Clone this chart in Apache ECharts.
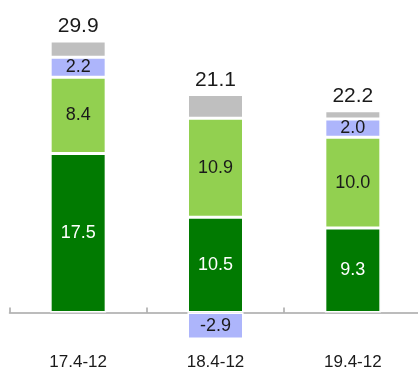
<!DOCTYPE html>
<html>
<head>
<meta charset="utf-8">
<script src="https://cdn.jsdelivr.net/npm/echarts@6/dist/echarts.min.js"></script>
<style>
  html, body { margin: 0; padding: 0; background: #fff; }
  #chart { width: 418px; height: 372px; }
</style>
</head>
<body>
<div id="chart"></div>
<script>
// Period categories
const periods = ['17.4-12', '18.4-12', '19.4-12'];
// Stacked components (bottom to top)
const coreValues = [17.5, 10.5, 9.3];
const secondValues = [8.4, 10.9, 10.0];
const thirdValues = [2.2, -2.9, 2.0];
const otherValues = [1.8, 2.6, 0.9];
// Totals shown above each column
const totals = [29.9, 21.1, 22.2];

const FONT = '"Liberation Sans", Arial, sans-serif';
const chart = echarts.init(document.getElementById('chart'), null, { renderer: 'canvas' });

function segment(name, data, color, labelColor, showLabel) {
  return {
    name: name,
    type: 'bar',
    stack: 'sum',
    barWidth: 56,
    data: data,
    itemStyle: { color: color, borderColor: '#ffffff', borderWidth: 1.5 },
    label: {
      show: showLabel,
      position: 'inside',
      color: labelColor,
      fontSize: 18,
      fontFamily: FONT,
      formatter: p => p.value.toFixed(1)
    },
    emphasis: { disabled: true }
  };
}

const otherSeries = segment('other', otherValues, '#bfbfbf', '#1a1a1a', true);
otherSeries.label = {
  show: true,
  position: 'top',
  distance: 4,
  color: '#1a1a1a',
  fontSize: 21,
  fontFamily: FONT,
  formatter: p => totals[p.dataIndex].toFixed(1)
};

chart.setOption({
  animation: false,
  backgroundColor: '#ffffff',
  grid: { left: 9.5, top: 40, width: 412, height: 318, containLabel: false, outerBoundsMode: 'none' },
  xAxis: {
    type: 'category',
    data: periods,
    axisLine: { show: true, onZero: true, lineStyle: { color: '#a6a6a6', width: 1.5 } },
    axisTick: { show: true, inside: true, length: 5, lineStyle: { color: '#a6a6a6', width: 1.5 } },
    axisLabel: { margin: -4, color: '#1a1a1a', fontSize: 17, fontFamily: FONT }
  },
  yAxis: {
    type: 'value',
    min: -5,
    max: 30,
    show: false,
    splitLine: { show: false }
  },
  series: [
    segment('core', coreValues, '#017a01', '#ffffff', true),
    segment('second', secondValues, '#92d050', '#1a1a1a', true),
    segment('third', thirdValues, '#adb5fb', '#1a1a1a', true),
    otherSeries
  ]
});
</script>
</body>
</html>
